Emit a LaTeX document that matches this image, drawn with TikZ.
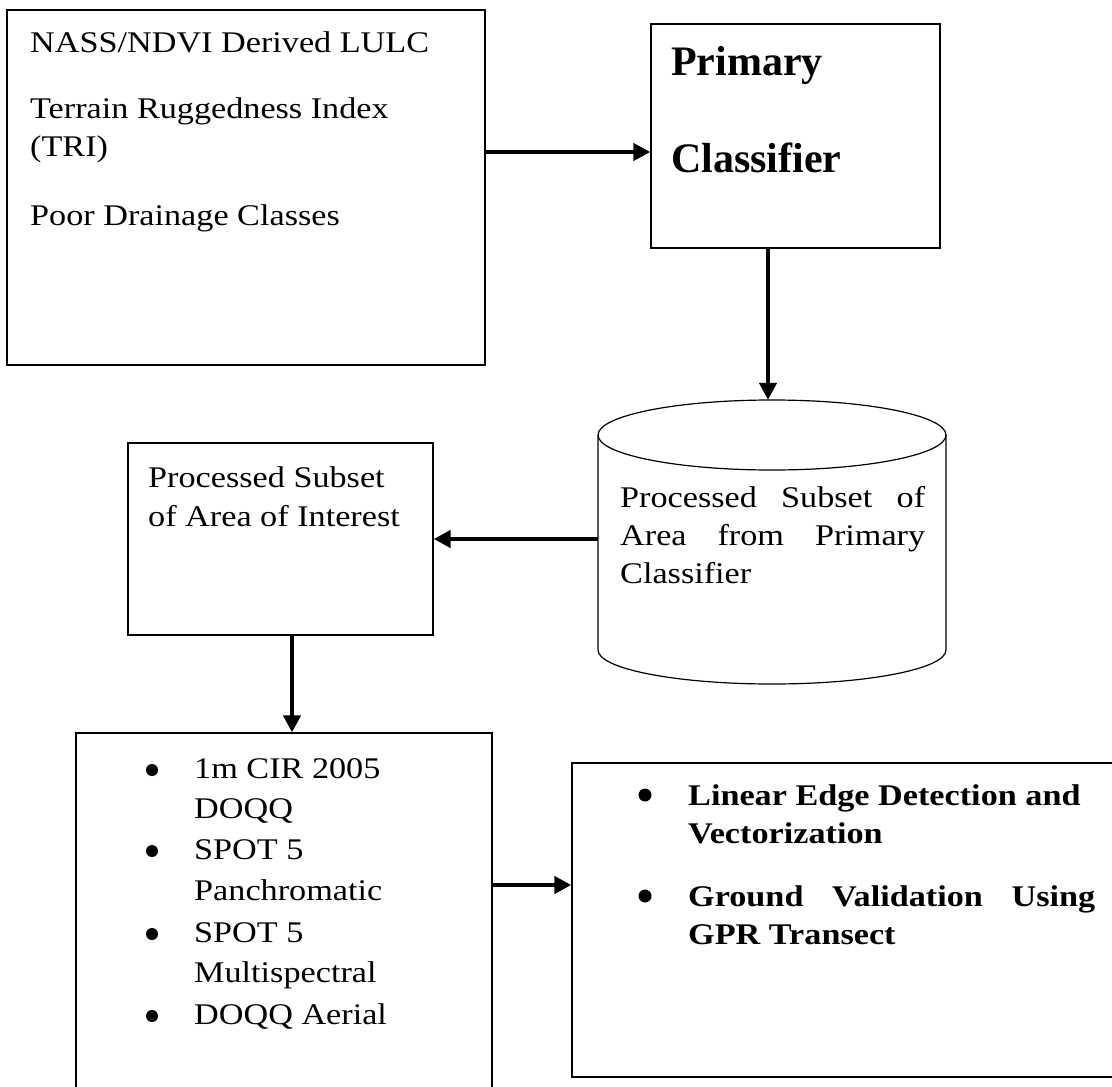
\documentclass[tikz,border=0pt]{standalone}
\usepackage{fontspec}
\setmainfont{Liberation Serif}
\newfontfamily\bodyfont[FakeStretch=1.14]{Liberation Serif}
\usetikzlibrary{arrows.meta,calc}

\begin{document}
\begin{tikzpicture}[x=1pt,y=-1pt,
  box/.style={draw, line width=1.3pt, rectangle, inner sep=0pt},
  flow/.style={line width=4.6pt, -{Triangle[length=17pt,width=17pt]}},
  txt/.style={anchor=base west, inner sep=0pt, font=\bodyfont\fontsize{30}{36}\selectfont},
  btxt/.style={anchor=base west, inner sep=0pt, font=\bodyfont\bfseries\fontsize{30}{36}\selectfont},
  bigtxt/.style={anchor=base west, inner sep=0pt, font=\bfseries\fontsize{42}{48}\selectfont},
  dot/.style={circle, fill=black, inner sep=0pt, minimum size=12pt},
  bdot/.style={circle, fill=black, inner sep=0pt, minimum size=13pt}]

% page
\fill[white] (0,0) rectangle (1112,1087);
\useasboundingbox (0,0) rectangle (1112,1087);

% boxes
\node[box, minimum width=478pt, minimum height=355pt] (src) at (246,187.5) {};
\node[box, minimum width=289pt, minimum height=224pt] (pc)  at (795.5,136) {};
\node[box, minimum width=305pt, minimum height=192pt] (aoi) at (280.5,539) {};
\node[box, minimum width=416pt, minimum height=370pt] (img) at (284,918) {};
\node[box, minimum width=560pt, minimum height=314pt] (res) at (852,920) {};

% cylinder (data store)
\node[inner sep=0pt, minimum width=348pt, minimum height=285pt] (db) at (772,542.5) {};
\draw[line width=1.2pt] (772,435) ellipse [x radius=174pt, y radius=35pt];
\draw[line width=1.2pt] (598,435) -- (598,650)
  arc[start angle=180, end angle=360, x radius=174pt, y radius=34pt] -- (946,435);

% connectors
\draw[flow] ([yshift=35.5pt]src.east) -- ([yshift=35.5pt]src.east -| pc.west);
\draw[flow] ([xshift=-27.5pt]pc.south) -- ([xshift=-27.5pt]pc.south |- db.north);
\draw[flow] (db.west |- aoi.east) -- (aoi.east);
\draw[flow] ([xshift=11.5pt]aoi.south) -- ([xshift=11.5pt]aoi.south |- img.north);
\draw[flow] ([yshift=33pt]img.east) -- ([yshift=33pt]img.east -| res.west);

% input layers
\node[txt] (s1) at (30,52)  {NASS/NDVI Derived LULC};
\node[txt] (s2) at (30,118) {Terrain Ruggedness Index};
\node[txt] (s3) at (30,156) {(TRI)};
\node[txt] (s4) at (30,225) {Poor Drainage Classes};

% classifier
\node[bigtxt] (p1) at (671,75)  {Primary};
\node[bigtxt] (p2) at (671,172) {Classifier};

% area of interest
\node[txt] (a1) at (148,487) {Processed Subset};
\node[txt] (a2) at (148,526) {of Area of Interest};

% classified subset
\node[txt] (d1) at (620,507) {\makebox[305pt][s]{Processed Subset of}};
\node[txt] (d2) at (620,545) {\makebox[305pt][s]{Area from Primary}};
\node[txt] (d3) at (620,583) {Classifier};

% imagery list
\node[dot] (b1) at (152,770)  {};
\node[txt] (i1) at (194,778)  {1m CIR 2005};
\node[txt] (i2) at (194,818)  {DOQQ};
\node[dot] (b2) at (152,851)  {};
\node[txt] (i3) at (194,859)  {SPOT 5};
\node[txt] (i4) at (194,900)  {Panchromatic};
\node[dot] (b3) at (152,934)  {};
\node[txt] (i5) at (194,942)  {SPOT 5};
\node[txt] (i6) at (194,982)  {Multispectral};
\node[dot] (b4) at (152,1016) {};
\node[txt] (i7) at (194,1024) {DOQQ Aerial};

% results list
\node[bdot] (r0) at (645,795) {};
\node[btxt] (r1) at (688,805) {Linear Edge Detection and};
\node[btxt] (r2) at (688,843) {Vectorization};
\node[bdot] (r5) at (645,896) {};
\node[btxt] (r3) at (688,906) {\makebox[407pt][s]{Ground Validation Using}};
\node[btxt] (r4) at (688,944) {GPR Transect};
\end{tikzpicture}
\end{document}
